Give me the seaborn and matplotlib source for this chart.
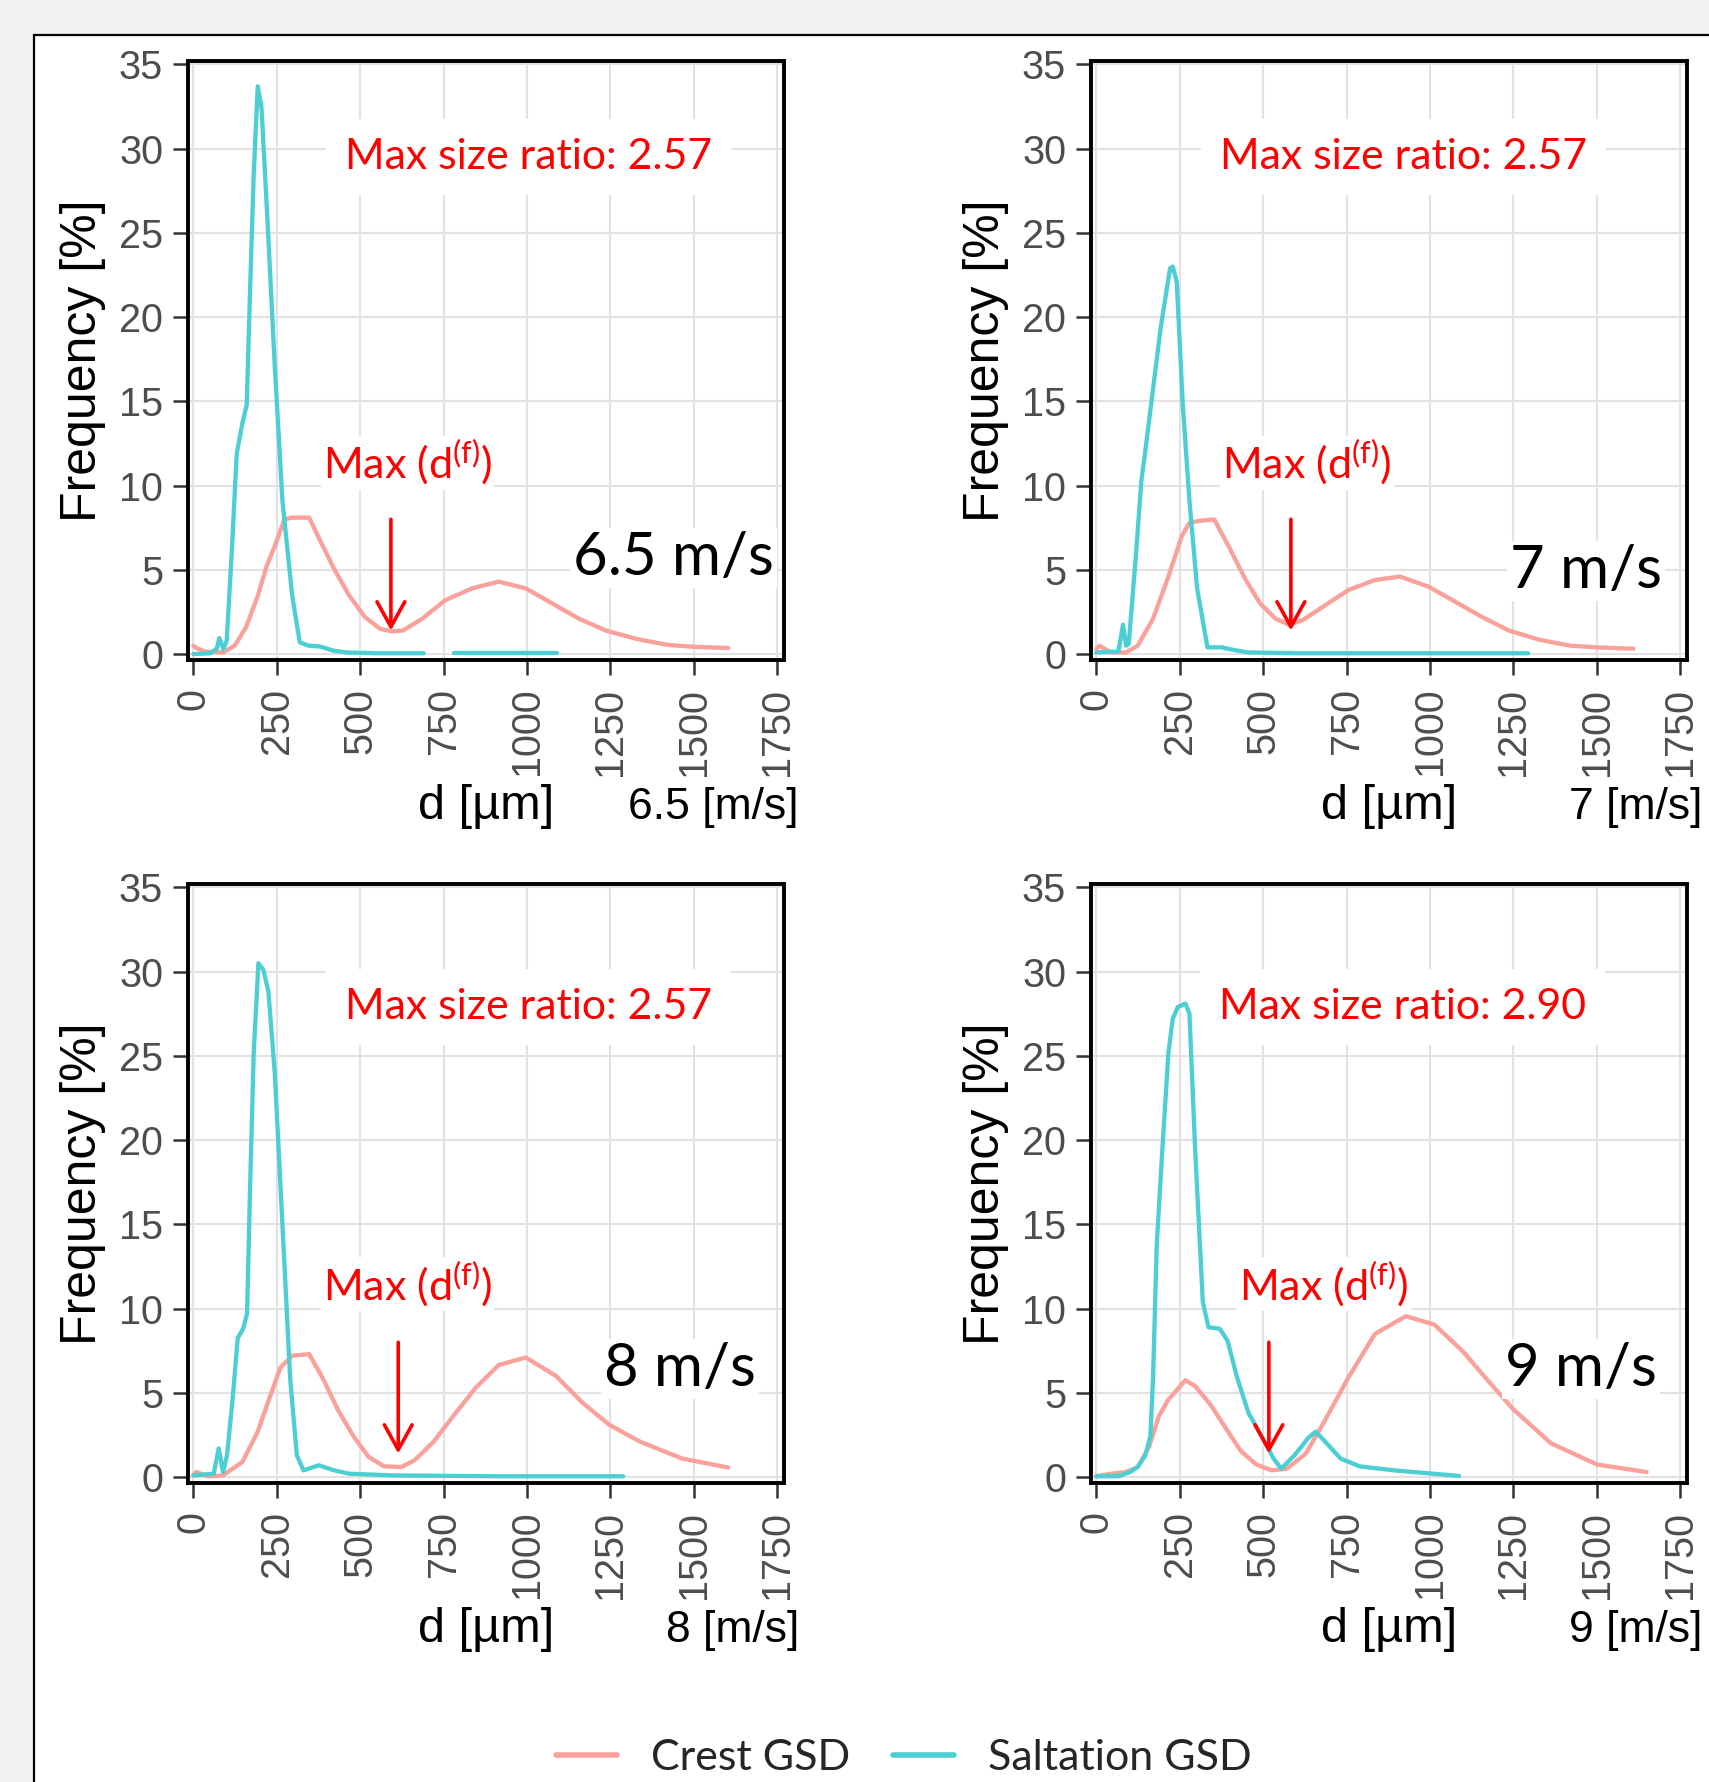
import numpy as np
import pandas as pd
import matplotlib
matplotlib.use("Agg")
import matplotlib.pyplot as plt
import seaborn as sns
from matplotlib.lines import Line2D
from matplotlib.patches import Rectangle

# values (d in um, frequency in %)
speeds = ["6.5", "7", "8", "9"]
ratios = ["2.57", "2.57", "2.57", "2.90"]
min_d = [592, 583, 614, 517]

d_sal_65 = [0, 50, 70, 78, 90, 100, 115, 130, 147, 160, 170, 181, 193, 204, 221, 244, 267, 296, 319, 345,
            380, 420, 460, 550, 690, 735, 780, 1090]
f_sal_65 = [0, 0.05, 0.3, 0.95, 0.3, 0.8, 6.0, 11.9, 13.7, 14.8, 21.6, 28.5, 33.7, 32.5, 26.2, 17.1, 9.1, 3.5,
            0.7, 0.5, 0.45, 0.2, 0.1, 0.05, 0.05, np.nan, 0.05, 0.05]
d_cre_65 = [0, 10, 35, 89, 124, 158, 193, 221, 244, 273, 296, 347, 376, 422, 468, 514, 560, 594, 628, 686,
            755, 835, 915, 996, 1076, 1156, 1236, 1328, 1420, 1500, 1603]
f_cre_65 = [0.5, 0.35, 0.15, 0.1, 0.5, 1.6, 3.45, 5.3, 6.4, 8.0, 8.1, 8.1, 6.9, 5.05, 3.45, 2.2, 1.5, 1.35,
            1.4, 2.1, 3.2, 3.9, 4.3, 3.9, 3.0, 2.1, 1.4, 0.9, 0.55, 0.43, 0.36]

d_sal_7 = [0, 66, 80, 89, 97, 118, 135, 147, 164, 193, 221, 229, 241, 259, 279, 302, 333, 376, 410, 456,
           600, 900, 1294]
f_sal_7 = [0.1, 0.15, 1.75, 0.5, 0.6, 5.7, 10.3, 12.1, 14.8, 19.4, 22.9, 23.0, 22.1, 14.8, 9.1, 3.9, 0.4,
           0.4, 0.25, 0.1, 0.05, 0.05, 0.05]
d_cre_7 = [0, 9, 44, 89, 124, 170, 216, 256, 279, 307, 353, 399, 445, 491, 537, 577, 617, 686, 755, 835,
           910, 996, 1076, 1156, 1236, 1328, 1420, 1500, 1609]
f_cre_7 = [0.3, 0.5, 0.1, 0.1, 0.5, 2.1, 4.6, 7.0, 7.8, 7.9, 8.0, 6.3, 4.5, 3.0, 2.1, 1.75, 2.0, 2.9, 3.8,
           4.4, 4.6, 4.0, 3.1, 2.2, 1.4, 0.85, 0.5, 0.4, 0.32]

d_sal_8 = [0, 61, 76, 89, 101, 118, 133, 149, 161, 170, 181, 195, 210, 225, 244, 267, 290, 310, 330, 376,
           422, 468, 600, 900, 1288]
f_sal_8 = [0.1, 0.2, 1.7, 0.3, 1.3, 4.7, 8.25, 8.8, 9.7, 17.2, 25.2, 30.5, 30.1, 28.8, 24.0, 15.0, 5.9, 1.3,
           0.4, 0.7, 0.4, 0.2, 0.1, 0.05, 0.05]
d_cre_8 = [0, 9, 44, 89, 147, 193, 221, 261, 296, 347, 387, 433, 479, 525, 571, 623, 663, 720, 778, 846,
           915, 996, 1087, 1167, 1247, 1339, 1465, 1603]
f_cre_8 = [0.1, 0.3, 0.05, 0.1, 0.9, 2.7, 4.3, 6.5, 7.2, 7.3, 5.9, 4.0, 2.45, 1.2, 0.64, 0.6, 1.0, 2.1,
           3.6, 5.3, 6.65, 7.1, 6.0, 4.4, 3.1, 2.1, 1.1, 0.57]

d_sal_9 = [0, 66, 101, 124, 147, 162, 170, 181, 198, 216, 229, 244, 267, 279, 296, 319, 336, 370, 393, 422,
           456, 502, 531, 554, 594, 634, 657, 686, 732, 789, 892, 1087]
f_sal_9 = [0.05, 0.05, 0.3, 0.6, 1.3, 2.45, 5.9, 13.8, 19.5, 25.2, 27.2, 27.9, 28.1, 27.5, 19.5, 10.4, 8.9,
           8.8, 8.1, 5.9, 3.8, 2.2, 1.1, 0.5, 1.3, 2.3, 2.7, 2.1, 1.1, 0.64, 0.4, 0.07]
d_cre_9 = [0, 44, 89, 124, 158, 187, 216, 267, 296, 342, 388, 433, 479, 525, 571, 628, 686, 755, 835, 927,
           1013, 1099, 1179, 1248, 1363, 1500, 1649]
f_cre_9 = [0.05, 0.2, 0.3, 0.6, 1.8, 3.6, 4.6, 5.75, 5.4, 4.3, 2.9, 1.55, 0.75, 0.4, 0.5, 1.4, 3.4, 5.9,
           8.5, 9.55, 9.05, 7.45, 5.6, 4.05, 2.0, 0.75, 0.3]

sal_d = [d_sal_65, d_sal_7, d_sal_8, d_sal_9]
sal_f = [f_sal_65, f_sal_7, f_sal_8, f_sal_9]
cre_d = [d_cre_65, d_cre_7, d_cre_8, d_cre_9]
cre_f = [f_cre_65, f_cre_7, f_cre_8, f_cre_9]

CREST = "#f9a19a"
SALT = "#4ccfd4"
palette = {"Crest GSD": CREST, "Saltation GSD": SALT}

sns.set_theme(style="white")
plt.rcParams["font.family"] = ["Liberation Sans", "DejaVu Sans"]
plt.rcParams["mathtext.fontset"] = "custom"
plt.rcParams["mathtext.rm"] = "Lato"
plt.rcParams["mathtext.it"] = "Lato:italic"

W, H = 1709, 1782
fig = plt.figure(figsize=(W / 100, H / 100), dpi=100, facecolor="#f2f2f2")
frame = Rectangle((34 / W, -0.02), 1.05, 1 - 35 / H + 0.02, transform=fig.transFigure,
                  facecolor="white", edgecolor="black", lw=1.6, zorder=-10)
fig.patches.append(frame)

# axes boxes in pixels: left, top, right, bottom
boxes = [(188, 61, 784, 660), (1091, 61, 1687, 660), (188, 884, 784, 1483), (1091, 884, 1687, 1483)]

# text anchor positions in data units
ratio_xy = [(1004, 28.8), (921, 28.8), (1004, 27.2), (918, 27.2)]
maxd_xy = [(642, 10.4), (631, 10.4), (642, 10.5), (682, 10.5)]
speed_xy = [(1438, 4.7), (1466, 3.9), (1458, 5.4), (1453, 5.4)]

for i in range(4):
    l, t, r, b = boxes[i]
    ax = fig.add_axes([l / W, 1 - b / H, (r - l) / W, (b - t) / H])
    ax.set_zorder(2)
    ax.set_facecolor("white")

    frames = []
    for name, dd, ff in [("Crest GSD", cre_d[i], cre_f[i]), ("Saltation GSD", sal_d[i], sal_f[i])]:
        part = pd.DataFrame({"d": dd, "freq": ff})
        part["series"] = name
        part["seg"] = name + part["freq"].isna().cumsum().astype(str)
        frames.append(part.dropna())
    df = pd.concat(frames, ignore_index=True)

    sns.lineplot(data=df, x="d", y="freq", hue="series", units="seg", estimator=None,
                 palette=palette, lw=3.1, ax=ax, legend=False, sort=False, zorder=3)

    ax.set_xlim(-16, 1770)
    ax.set_ylim(-0.35, 35.2)
    ax.set_xticks(np.arange(0, 1751, 250))
    ax.set_yticks(np.arange(0, 36, 5))
    ax.grid(True, color="#e2e2e2", lw=1.5, zorder=0)
    ax.set_axisbelow(True)
    for s in ax.spines.values():
        s.set_visible(True)
        s.set_color("black")
        s.set_linewidth(2.8)
        s.set_zorder(5)
    ax.tick_params(axis="both", which="major", length=11, width=1.8, color="#333333",
                   labelsize=28.5, labelcolor="#4d4d4d", left=True, bottom=True)
    ax.tick_params(axis="y", pad=7)
    ax.tick_params(axis="x", pad=9, labelrotation=90)

    ax.set_ylabel("Frequency [%]", fontsize=36, color="black")
    ax.yaxis.set_label_coords(-0.138, 0.5)
    ax.set_xlabel("d [µm]", fontsize=35, color="black", va="baseline")
    ax.xaxis.set_label_coords(0.5, -0.265)
    ax.text(1.025, -0.265, speeds[i] + " [m/s]", transform=ax.transAxes, ha="right", va="baseline",
            fontsize=32, color="black")

    ax.text(*ratio_xy[i], "Max size ratio: " + ratios[i], ha="center", va="baseline", color="red",
            fontsize=30.8, family="Lato", zorder=4,
            bbox=dict(boxstyle="square,pad=0.45", fc="white", ec="none"))
    ax.text(*maxd_xy[i], r"Max (d$^{\mathregular{(f)}}$)", ha="center", va="baseline", color="red",
            fontsize=31, family="Lato", zorder=4,
            bbox=dict(boxstyle="square,pad=0.05", fc="white", ec="none"))
    ax.text(*speed_xy[i], speeds[i] + " m/s", ha="center", va="baseline", color="black",
            fontsize=43, family="Lato", zorder=4,
            bbox=dict(boxstyle="square,pad=0.05", fc="white", ec="none"))
    ax.annotate("", xy=(min_d[i], 1.4), xytext=(min_d[i], 8.0),
                arrowprops=dict(arrowstyle="->,head_length=0.9,head_width=0.5", color="red",
                                lw=2.6, mutation_scale=20, shrinkA=0, shrinkB=0), zorder=6)

handles = [Line2D([], [], color=CREST, lw=4), Line2D([], [], color=SALT, lw=4)]
fig.legend(handles, ["Crest GSD", "Saltation GSD"], loc="center", bbox_to_anchor=(0.529, 0.0135),
           ncol=2, frameon=False, prop=dict(family="Lato", size=31),
           handlelength=1.4, handletextpad=0.8, columnspacing=1.0)

fig.savefig("out.png", dpi=100, facecolor=fig.get_facecolor())
